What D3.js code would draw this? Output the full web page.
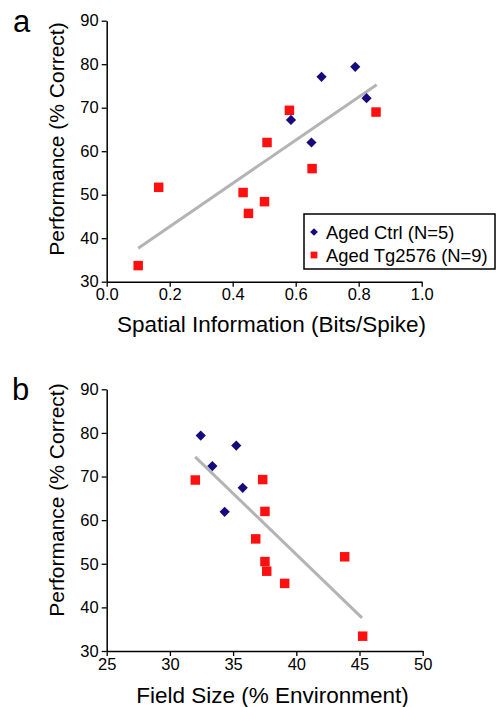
<!DOCTYPE html>
<html>
<head>
<meta charset="utf-8">
<script src="https://cdn.jsdelivr.net/npm/d3@7"></script>
<style>
  body { margin: 0; background: #fff; }
  svg text { font-family: "Liberation Sans", Arial, sans-serif; fill: #000; }
</style>
</head>
<body>
<svg id="chart" width="498" height="707"></svg>
<script>
// panel a: spatial information vs performance
const ctrlInfo = [0.585, 0.682, 0.789, 0.825, 0.650];
const ctrlInfoPerf = [67.2, 77.1, 79.4, 72.2, 62.0];
const tgInfo = [0.100, 0.165, 0.433, 0.450, 0.501, 0.509, 0.580, 0.652, 0.855];
const tgInfoPerf = [33.7, 51.7, 50.5, 45.7, 48.4, 62.0, 69.4, 56.0, 69.0];
const trendInfo = [[0.10, 37.7], [0.857, 75.3]];

// panel b: field size vs performance
const ctrlField = [32.44, 33.36, 35.25, 35.76, 34.33];
const ctrlFieldPerf = [79.4, 72.4, 77.1, 67.4, 61.9];
const tgField = [32.01, 37.34, 37.52, 36.79, 37.52, 37.66, 39.08, 43.83, 45.25];
const tgFieldPerf = [69.2, 69.3, 62.0, 55.7, 50.5, 48.3, 45.5, 51.6, 33.4];
const trendField = [[32.0, 74.5], [45.2, 37.6]];

const perfTicks = [30, 40, 50, 60, 70, 80, 90];
const infoTicks = [0, 0.2, 0.4, 0.6, 0.8, 1.0];
const fieldTicks = [25, 30, 35, 40, 45, 50];
const legendLabels = ["Aged Ctrl (N=5)", "Aged Tg2576 (N=9)"];

const navy = "#170a7c";
const red = "#ff1010";
const svg = d3.select("#chart");

const zip = (xs, ys) => xs.map((x, i) => ({ x: x, y: ys[i] }));

function drawPanel(opt) {
  const g = svg.append("g");
  const x = d3.scaleLinear().domain(opt.xDomain).range(opt.xRange);
  const y = d3.scaleLinear().domain([30, 90]).range(opt.yRange);

  //axes
  const xAxis = g.append("g")
    .attr("transform", `translate(0,${opt.yRange[0]})`)
    .call(d3.axisBottom(x).tickValues(opt.xTicks).tickFormat(opt.xFormat).tickSize(5).tickSizeOuter(0));
  const yAxis = g.append("g")
    .attr("transform", `translate(${opt.xRange[0]},0)`)
    .call(d3.axisLeft(y).tickValues(perfTicks).tickSize(5).tickSizeOuter(0));
  [xAxis, yAxis].forEach(a => {
    a.select(".domain").attr("stroke", "#000").attr("stroke-width", 1.5);
    a.selectAll(".tick line").attr("stroke", "#000").attr("stroke-width", 1.3);
    a.selectAll("text").attr("font-size", 16.5).attr("fill", "#000")
      .style("font-family", "'Liberation Sans', Arial, sans-serif");
  });
  xAxis.selectAll("text").attr("y", 7);
  yAxis.selectAll("text").attr("x", -8);

  //trend line
  g.append("path")
    .datum(opt.trend)
    .attr("d", d3.line().x(d => x(d[0])).y(d => y(d[1])))
    .attr("stroke", "#b4b4b4").attr("stroke-width", 3).attr("fill", "none");

  //points
  g.selectAll(".sq").data(zip(opt.tgX, opt.tgY)).enter()
    .append("path")
    .attr("d", d3.symbol(d3.symbolSquare, 90))
    .attr("transform", d => `translate(${x(d.x)},${y(d.y)})`)
    .attr("fill", red);
  g.selectAll(".dm").data(zip(opt.ctrlX, opt.ctrlY)).enter()
    .append("path")
    .attr("d", d3.symbol(d3.symbolSquare, 52))
    .attr("transform", d => `translate(${x(d.x)},${y(d.y)}) rotate(45)`)
    .attr("fill", navy);

  //labels
  g.append("text")
    .attr("x", opt.xLabelPos[0]).attr("y", opt.xLabelPos[1])
    .attr("text-anchor", "middle").attr("font-size", opt.xLabelSize)
    .text(opt.xLabel);
  g.append("text")
    .attr("transform", `translate(${opt.yLabelPos[0]},${opt.yLabelPos[1]}) rotate(-90)`)
    .attr("text-anchor", "middle").attr("font-size", 21)
    .text("Performance (% Correct)");
  g.append("text")
    .attr("x", opt.letterPos[0]).attr("y", opt.letterPos[1])
    .attr("font-size", 31)
    .text(opt.letter);
  return { g, x, y };
}

const a = drawPanel({
  xDomain: [0, 1], xRange: [106.7, 421.7], yRange: [281.7, 20.7],
  xTicks: infoTicks, xFormat: d3.format(".1f"),
  ctrlX: ctrlInfo, ctrlY: ctrlInfoPerf, tgX: tgInfo, tgY: tgInfoPerf, trend: trendInfo,
  xLabel: "Spatial Information (Bits/Spike)", xLabelPos: [271.5, 331.5], xLabelSize: 22.5,
  yLabelPos: [64, 139], letter: "a", letterPos: [13, 32]
});

const b = drawPanel({
  xDomain: [25, 50], xRange: [106.7, 422.7], yRange: [651, 389.3],
  xTicks: fieldTicks, xFormat: d3.format("d"),
  ctrlX: ctrlField, ctrlY: ctrlFieldPerf, tgX: tgField, tgY: tgFieldPerf, trend: trendField,
  xLabel: "Field Size (% Environment)", xLabelPos: [272.5, 702.5], xLabelSize: 22.5,
  yLabelPos: [64, 500], letter: "b", letterPos: [12, 400]
});

//legend in panel a
const legend = a.g.append("g");
legend.append("rect")
  .attr("x", 304).attr("y", 214).attr("width", 191).attr("height", 55)
  .attr("fill", "#fff").attr("stroke", "#000").attr("stroke-width", 1.5);
const legendRows = legend.selectAll(".row").data(legendLabels).enter()
  .append("g")
  .attr("transform", (d, i) => `translate(314,${232 + i * 23})`);
legendRows.append("path")
  .attr("d", (d, i) => d3.symbol(d3.symbolSquare, i === 0 ? 30 : 46)())
  .attr("transform", (d, i) => i === 0 ? "rotate(45)" : null)
  .attr("fill", (d, i) => i === 0 ? navy : red);
legendRows.append("text")
  .attr("x", 12).attr("y", 6.5)
  .attr("font-size", 18.4)
  .text(d => d);
</script>
</body>
</html>
